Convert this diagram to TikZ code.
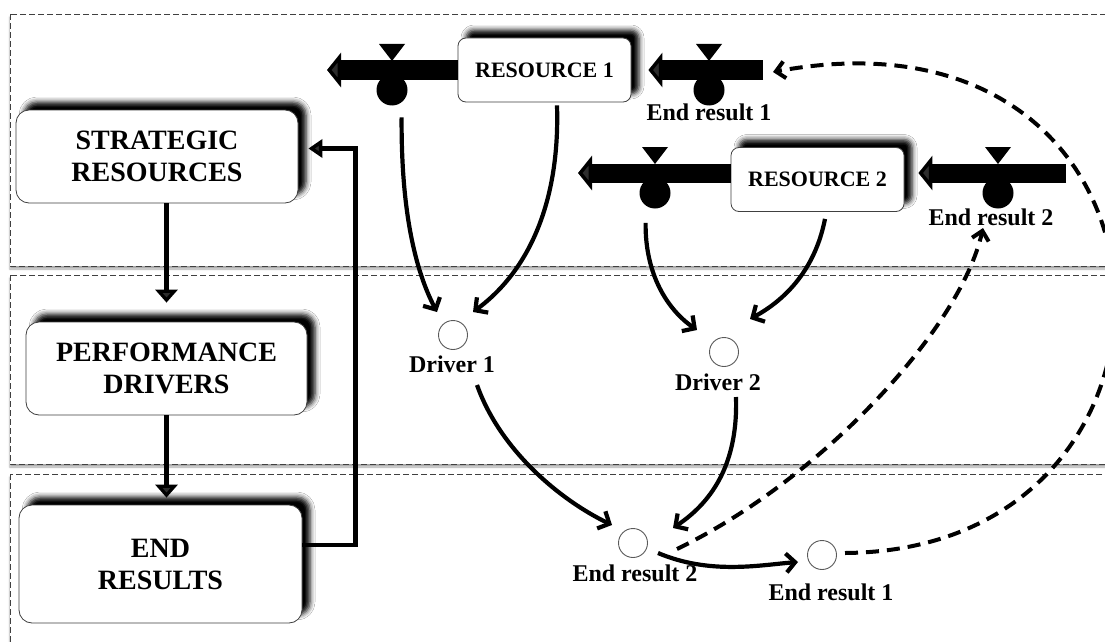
\documentclass[tikz,border=0pt]{standalone}
\usepackage{fontspec}
\setmainfont{Liberation Serif}
\usetikzlibrary{arrows.meta,shadows.blur,calc}

\begin{document}
\begin{tikzpicture}[x=1pt,y=-1pt,
  band/.style={draw=black!75, line width=0.9pt, dash pattern=on 6pt off 3pt, fill=white,
    blur shadow={shadow xshift=0pt, shadow yshift=-3pt, shadow blur radius=2pt, shadow opacity=35}},
  boxshadow/.style={blur shadow={shadow xshift=8pt, shadow yshift=8pt, shadow blur radius=5pt, shadow opacity=100}},
  stage/.style={draw=black!75, line width=0.8pt, rounded corners=13pt, fill=white, align=center,
    font=\fontsize{28}{32}\selectfont\bfseries, inner sep=0pt, boxshadow},
  resbox/.style={draw=black!75, line width=0.8pt, rounded corners=8pt, fill=white,
    font=\fontsize{22}{26}\selectfont\bfseries, inner sep=0pt,
    minimum width=173pt, minimum height=64pt, boxshadow},
  aux/.style={circle, draw=black!65, line width=0.9pt, fill=white, minimum size=29pt, inner sep=0pt},
  lbl/.style={font=\fontsize{24}{28}\selectfont\bfseries, anchor=base, inner sep=0pt},
  pipe/.style={line width=19pt, -{Triangle[width=34pt,length=14pt]}},
  stagearrow/.style={line width=4.4pt, -{Triangle[width=22pt,length=13pt]}},
  feedback/.style={line width=4.4pt, -{Triangle[width=18pt,length=14pt]}},
  link/.style={line width=4.2pt, -{Straight Barb[length=9pt,width=19pt]}},
  dashlink/.style={line width=4pt, dash pattern=on 13pt off 8pt, -{Straight Barb[length=9pt,width=17pt]}},
  valve/.pic={
    \fill (-13,-26) -- (13,-26) -- (0,-9) -- cycle;
    \fill (0,20) circle[radius=15.5pt];
  }
]
\useasboundingbox (0,0) rectangle (1105,642);
\clip (0,0) rectangle (1105,642);

% three dashed bands
\draw[band] (10,14) rectangle (1125,266);
\draw[band] (10,275) rectangle (1125,464);
\draw[band] (10,474) rectangle (1125,670);

% left column of stages
\node[stage, minimum width=282pt, minimum height=93pt] (sr) at (157,156.5) {STRATEGIC\\RESOURCES};
\node[stage, minimum width=281pt, minimum height=93pt] (pd) at (166.5,368.5) {PERFORMANCE\\DRIVERS};
\node[stage, minimum width=283pt, minimum height=118pt] (er) at (160.5,564) {END\\RESULTS};

\draw[stagearrow, shorten >=19pt] (sr.south -| pd) -- (pd.north);
\draw[stagearrow, shorten >=7pt] (pd.south) -- (pd.south |- er.north);
\draw[feedback, shorten >=10pt] ([yshift=19pt]er.east) -- ++(53,0) |- ([yshift=8pt]sr.east);

% stocks
\node[resbox] (r1) at (544.5,70) {RESOURCE 1};
\node[resbox] (r2) at (817.5,179.5) {RESOURCE 2};

% flows with valves
\coordinate (p1) at (327,70);
\coordinate (s1) at (763,70);
\coordinate (p2) at (578,173);
\coordinate (s2) at (1066,173);
\draw[pipe] (r1.west) -- (p1);
\draw[pipe, shorten >=17pt] (s1) -- (r1.east);
\draw[pipe] (r2.west |- p2) -- (p2);
\draw[pipe, shorten >=14pt] (s2) -- (r2.east |- s2);
\pic at (392,70) {valve};
\pic at (709,70) {valve};
\pic at (655,173) {valve};
\pic at (998,173) {valve};
\node[lbl] (f1) at (709,120) {End result 1};
\node[lbl] (f2) at (991,225) {End result 2};

% auxiliaries
\node[aux] (d1) at (453,335) {};
\node[aux] (d2) at (724,352) {};
\node[aux] (e2) at (633,543) {};
\node[aux] (e1) at (822,555) {};
\node[lbl] (d1l) at (452,372) {Driver 1};
\node[lbl] (d2l) at (718,390) {Driver 2};
\node[lbl] (e2l) at (635,581) {End result 2};
\node[lbl] (e1l) at (831,600) {End result 1};

% causal links
\draw[link] ([shift={(-56,15)}]r1.south west) .. controls (401,210) and (415,270) .. ([shift={(-16,-23)}]d1.center);
\draw[link] ([shift={(12.5,3)}]r1.south) .. controls (560,200) and (530,270) .. ([shift={(20,-23)}]d1.center);
\draw[link] ([shift={(-85,11)}]r2.south west) .. controls (645,275) and (668,310) .. ([shift={(-27,-22)}]d2.center);
\draw[link] ([shift={(7.5,7)}]r2.south) .. controls (815,270) and (785,300) .. ([shift={(26,-33)}]d2.center);
\draw[link] ([shift={(24,50)}]d1.center) .. controls (500,450) and (560,500) .. ([shift={(-21,-18)}]e2.center);
\draw[link] ([shift={(12,45)}]d2.center) .. controls (738,460) and (715,500) .. ([shift={(40,-15)}]e2.center);
\draw[link] ([shift={(25,10)}]e2.center) .. controls (710,575) and (760,565) .. ([shift={(-24,7)}]e1.center);

% information feedback (dashed)
\draw[dashlink] ([shift={(44,6)}]e2.center) .. controls (820,480) and (960,330) .. ([shift={(-8,3)}]f2.base);
\draw[dashlink] ([shift={(23,-2)}]e1.center) .. controls (1225,550) and (1205,-8) .. ([shift={(10,2)}]s1);
\end{tikzpicture}
\end{document}
